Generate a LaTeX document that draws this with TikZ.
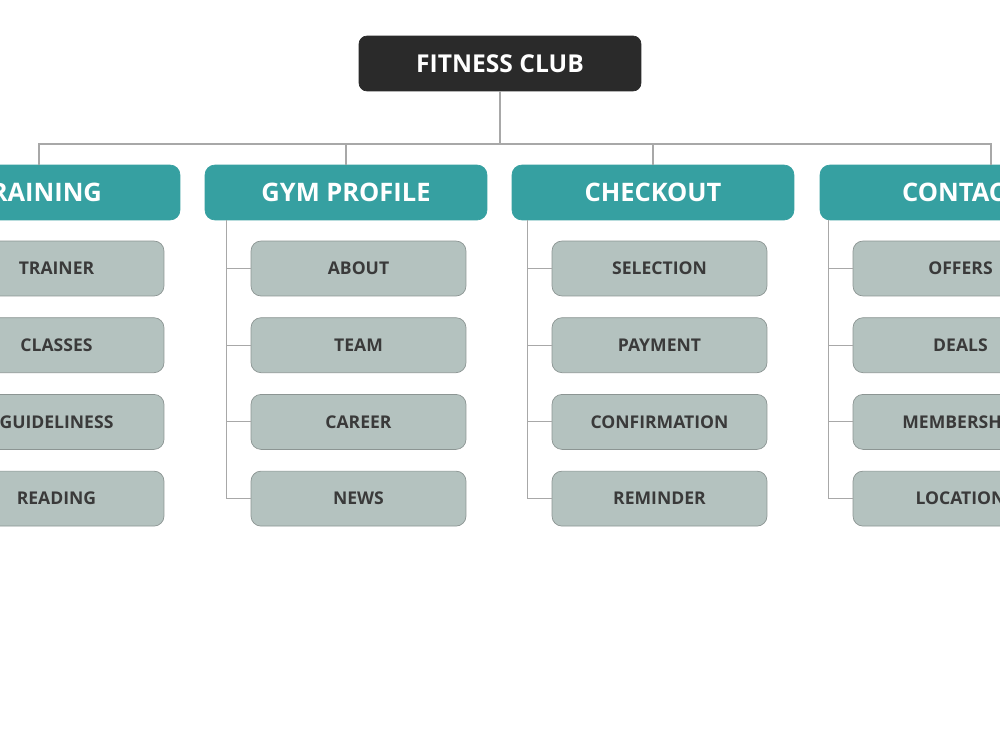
\documentclass[tikz,border=0pt]{standalone}
\usepackage{fontspec}
\setmainfont{Open Sans}
\definecolor{rootfill}{HTML}{2A2A2A}
\definecolor{catfill}{HTML}{36A0A1}
\definecolor{leaffill}{HTML}{B4C2BF}
\definecolor{leafline}{HTML}{8C9593}
\definecolor{leaftext}{HTML}{3A3A3A}
\definecolor{linkgray}{HTML}{A8A8A8}
\tikzset{
  root/.style={fill=rootfill, draw=rootfill, rounded corners=0.16cm, text=white,
    minimum width=5.64cm, minimum height=1.1cm, font=\fontsize{14}{16}\selectfont\bfseries},
  cat/.style={fill=catfill, draw=catfill, rounded corners=0.2cm, text=white,
    minimum width=5.64cm, minimum height=1.1cm, font=\fontsize{14.5}{17}\selectfont\bfseries},
  leaf/.style={fill=leaffill, draw=leafline, rounded corners=0.2cm, text=leaftext,
    minimum width=4.3cm, minimum height=1.1cm, font=\fontsize{10}{12}\selectfont\bfseries},
  link/.style={draw=linkgray, line width=0.6pt}
}
\begin{document}
\begin{tikzpicture}[x=0.02cm, y=-0.02cm]
  \useasboundingbox[fill=white] (0,0) rectangle (1000,750);
  \clip (0,0) rectangle (1000,750);

  \node[root] (club) at (500,63.5) {FITNESS CLUB};

  \node[cat] (train) at (39,192.5) {TRAINING};
  \node[cat] (gym) at (346,192.5) {GYM PROFILE};
  \node[cat] (check) at (653,192.5) {CHECKOUT};
  \node[cat] (contact) at (961,192.5) {CONTACT};

  % bus line
  \coordinate (bus) at (500,144);
  \draw[link] (club.south) -- (bus);
  \draw[link] (train.north) |- (bus);
  \draw[link] (gym.north) |- (bus);
  \draw[link] (check.north) |- (bus);
  \draw[link] ([xshift=0.6cm]contact.north) |- (bus);

  % leaves
  \foreach \t [count=\i] in {TRAINER,CLASSES,GUIDELINESS,READING}{
    \node[leaf] (train\i) at (56.5,{268.5+76.7*(\i-1)}) {\t};
    \draw[link] ([xshift=0.44cm]train.south west) |- (train\i.west);
  }
  \foreach \t [count=\i] in {ABOUT,TEAM,CAREER,NEWS}{
    \node[leaf] (gym\i) at (358.5,{268.5+76.7*(\i-1)}) {\t};
    \draw[link] ([xshift=0.44cm]gym.south west) |- (gym\i.west);
  }
  \foreach \t [count=\i] in {SELECTION,PAYMENT,CONFIRMATION,REMINDER}{
    \node[leaf] (check\i) at (659.5,{268.5+76.7*(\i-1)}) {\t};
    \draw[link] ([xshift=0.32cm]check.south west) |- (check\i.west);
  }
  \foreach \t [count=\i] in {OFFERS,DEALS,MEMBERSHIP,LOCATION}{
    \node[leaf] (contact\i) at (960.5,{268.5+76.7*(\i-1)}) {\t};
    \draw[link] ([xshift=0.18cm]contact.south west) |- (contact\i.west);
  }
\end{tikzpicture}
\end{document}
